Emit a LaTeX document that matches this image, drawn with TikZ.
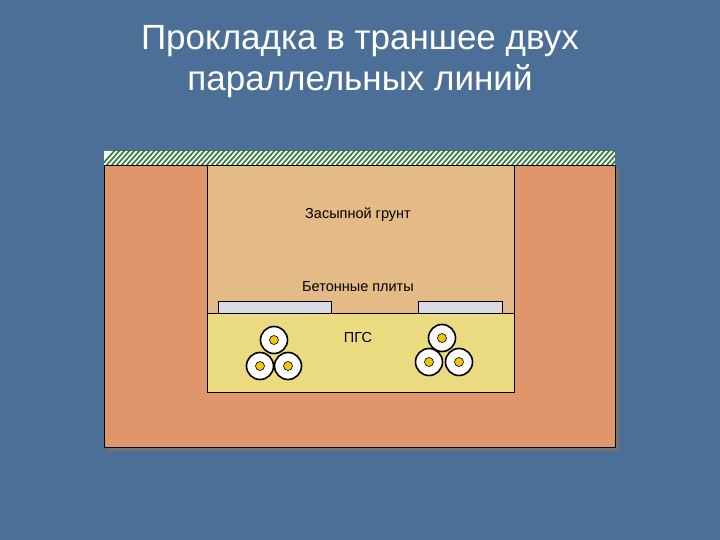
\documentclass[tikz,border=0pt]{standalone}
\usepackage{fontspec}
\setmainfont{Liberation Sans}
\usetikzlibrary{patterns}
\definecolor{bg}{HTML}{4B6F96}
\definecolor{soil}{HTML}{E0966B}
\definecolor{fill1}{HTML}{E4BA86}
\definecolor{pgs}{HTML}{EADB80}
\definecolor{plate}{HTML}{DADAE2}
\definecolor{hatch}{HTML}{2E7A2E}
\definecolor{dot}{HTML}{F2C40F}
\tikzset{
 box/.style={draw=black, line width=0.7pt},
 cab/.style={draw=black, line width=1.6pt, fill=white},
 core/.style={draw=black, line width=0.6pt, fill=dot},
 lbl/.style={font=\fontsize{14.5}{16}\selectfont, text=black}
}
\begin{document}
\begin{tikzpicture}[x=1pt,y=-1pt]
\fill[bg] (0,0) rectangle (720,540);
\useasboundingbox (0,0) rectangle (720,540);
\node[text=white, align=center, font=\fontsize{35}{41}\selectfont] (title) at (360,62) {Прокладка в траншее двух\\параллельных линий};
% shadow
\fill[black!55] (108,169) rectangle (619,451);
% hatch band
\fill[white] (104,151) rectangle (615,165);
\begin{scope}
\clip (104,151) rectangle (615,165);
\foreach \i in {0,5,...,530} { \draw[hatch, line width=1.6pt] (100+\i,167) -- (116+\i,149); }
\end{scope}
\node[box, fill=soil, minimum width=511pt, minimum height=282pt, inner sep=0pt, anchor=north west] (soil) at (104,165) {};
\node[box, fill=fill1, minimum width=307pt, minimum height=148pt, inner sep=0pt, anchor=north west] (fill) at (207,165) {};
\node[box, fill=pgs, minimum width=307pt, minimum height=79pt, inner sep=0pt, anchor=north west] (pgs) at (207,313) {};
\node[box, fill=plate, minimum width=113pt, minimum height=12pt, inner sep=0pt, anchor=north west] (p1) at (218,301) {};
\node[box, fill=plate, minimum width=84pt, minimum height=12pt, inner sep=0pt, anchor=north west] (p2) at (418,301) {};
\node[lbl] (t1) at (358,215) {Засыпной грунт};
\node[lbl] (t2) at (358,287) {Бетонные плиты};
\node[lbl] (t3) at (358,338) {ПГС};
\foreach \n/\x/\y in {a/274/340,b/260/366,c/288/366,d/442/338,e/429/362,f/459/362}{
  \node[cab, circle, minimum size=27pt, inner sep=0pt] (\n) at (\x,\y) {};
  \node[core, circle, minimum size=9pt, inner sep=0pt] (\n c) at (\x,\y) {};
}
\end{tikzpicture}
\end{document}
